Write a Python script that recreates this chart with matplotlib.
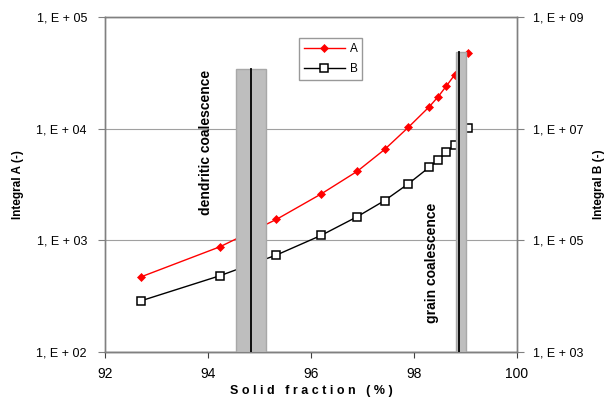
import matplotlib
matplotlib.use("Agg")
import matplotlib.pyplot as plt
from matplotlib.patches import Rectangle
from matplotlib.ticker import FixedLocator, NullLocator

plt.rcParams['font.family'] = ['Liberation Sans', 'DejaVu Sans']

# data
solid_fraction = [92.70, 94.23, 95.33, 96.20, 96.90, 97.43, 97.89, 98.30, 98.47, 98.63, 98.79, 99.04]
integral_a = [471, 875, 1541, 2606, 4160, 6516, 10280, 15770, 19360, 24150, 30330, 47780]
integral_b = [8260, 23200, 54600, 123000, 266000, 516000, 1.03e6, 2.05e6, 2.77e6, 3.76e6, 5.16e6, 1.03e7]

x_ticks = [92, 94, 96, 98, 100]
left_ticks = [1e2, 1e3, 1e4, 1e5]
left_labels = ["1, E + 02", "1, E + 03", "1, E + 04", "1, E + 05"]
right_ticks = [1e3, 1e5, 1e7, 1e9]
right_labels = ["1, E + 03", "1, E + 05", "1, E + 07", "1, E + 09"]

# coalescence regions: (x_min, x_max, line_x, top on left axis)
dendritic = (94.54, 95.13, 94.84, 34100)
grain = (98.82, 99.01, 98.87, 48200)

fig = plt.figure(figsize=(6.08, 4.0), dpi=100)
ax = fig.add_axes([105/608, 1-352/400, (517-105)/608, (352-17)/400])
ax2 = ax.twinx()

ax.set_xlim(92, 100)
ax.set_yscale('log')
ax.set_ylim(1e2, 1e5)
ax2.set_yscale('log')
ax2.set_ylim(1e3, 1e9)

ax.plot(solid_fraction, integral_a, color='#FF0000', lw=1.0, marker='D',
        ms=4.3, mfc='#FF0000', mec='#FF0000', mew=0.5, label='A', zorder=3)
ax2.plot(solid_fraction, integral_b, color='black', lw=1.0, marker='s',
         ms=5.6, mfc='white', mec='black', mew=1.1, label='B', zorder=3)

for (x0, x1, xl, top) in (dendritic, grain):
    r = Rectangle((x0, 1e2), x1 - x0, top - 1e2, transform=ax.transData,
                  facecolor='#BEBEBE', edgecolor='#A8A8A8', lw=1.0, zorder=5)
    ax2.add_patch(r)
    ax2.plot([xl, xl], [1e2, top], transform=ax.transData, color='black',
             lw=1.3, zorder=6)

ax2.text(93.96, 7480, "dendritic coalescence", rotation=90, ha='center',
         va='center', fontsize=10, fontweight='bold', zorder=7,
         transform=ax.transData)
ax2.text(98.35, 630, "grain coalescence", rotation=90, ha='center',
         va='center', fontsize=10, fontweight='bold', zorder=7,
         transform=ax.transData)

# grid
ax.yaxis.grid(True, which='major', color='#A0A0A0', lw=0.8)
ax.set_axisbelow(True)

ax.xaxis.set_major_locator(FixedLocator(x_ticks))
ax.set_xticklabels([str(v) for v in x_ticks])
ax.yaxis.set_major_locator(FixedLocator(left_ticks))
ax.yaxis.set_minor_locator(NullLocator())
ax.set_yticklabels(left_labels)
ax2.yaxis.set_major_locator(FixedLocator(right_ticks))
ax2.yaxis.set_minor_locator(NullLocator())
ax2.set_yticklabels(right_labels)

for a in (ax, ax2):
    for s in a.spines.values():
        s.set_color('#808080')
        s.set_linewidth(1.0)
ax.spines['bottom'].set_color('#404040')
ax.tick_params(axis='y', direction='out', length=5, width=0.8,
               color='#808080', labelsize=9, pad=8)
ax2.tick_params(axis='y', direction='out', length=5, width=0.8,
                color='#808080', labelsize=9, pad=6.5)
ax.tick_params(axis='x', direction='out', length=4, width=0.8,
               color='#404040', labelsize=10, pad=7)

ax.set_xlabel("S o l i d   f r a c t i o n   ( % )", fontsize=9,
              fontweight='bold', labelpad=3)
ax.set_ylabel("Integral A (-)", fontsize=8.5, fontweight='bold', labelpad=9)
ax2.set_ylabel("Integral B (-)", fontsize=8.5, fontweight='bold', labelpad=7)

h1, l1 = ax.get_legend_handles_labels()
h2, l2 = ax2.get_legend_handles_labels()
leg = ax2.legend(h1 + h2, l1 + l2, loc='upper left',
                 bbox_to_anchor=((299-105)/412, 1-(38-17)/335),
                 frameon=True, fancybox=False, edgecolor='#808080',
                 fontsize=8.5, handlelength=3.5, borderpad=0.4,
                 labelspacing=0.7, handletextpad=0.4, borderaxespad=0)
leg.get_frame().set_linewidth(1.0)
leg.set_zorder(10)

fig.savefig("out.png", dpi=100)
